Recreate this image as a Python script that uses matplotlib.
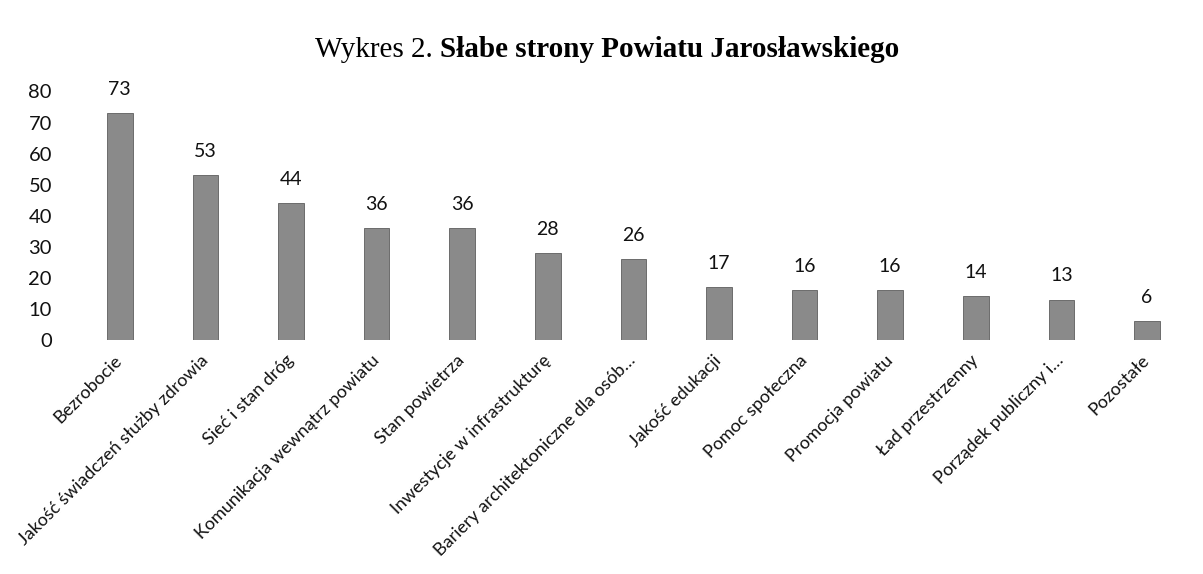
import numpy as np
import matplotlib.pyplot as plt

# Data
categories = ['Bezrobocie', 'Jakość świadczeń służby zdrowia', 'Sieć i stan dróg',
              'Komunikacja wewnątrz powiatu', 'Stan powietrza', 'Inwestycje w infrastrukturę',
              'Bariery architektoniczne dla osób…', 'Jakość edukacji', 'Pomoc społeczna',
              'Promocja powiatu', 'Ład przestrzenny', 'Porządek publiczny i…', 'Pozostałe']
values = [73, 53, 44, 36, 36, 28, 26, 17, 16, 16, 14, 13, 6]
yticks = [0, 10, 20, 30, 40, 50, 60, 70, 80]

plt.rcParams['font.family'] = ['Lato', 'DejaVu Sans']

fig = plt.figure(figsize=(12.03, 5.74), dpi=100)
ax = fig.add_axes([0.064, 0.4077, 0.925, 0.4329])

x = np.arange(len(categories))
bars = ax.bar(x, values, width=0.30, color='#8a8a8a', edgecolor='#5e5e5e', linewidth=0.6)

for xi, v in zip(x, values):
    ax.annotate(str(v), (xi, v), xytext=(0, 11), textcoords='offset points',
                ha='center', va='bottom', fontsize=14, color='#111111')

ax.set_xlim(-0.5, len(categories) - 0.5)
ax.set_ylim(0, 80)
ax.set_yticks(yticks)
ax.tick_params(axis='y', labelsize=14.5, length=0, pad=18, colors='#111111')
ax.set_xticks(x)
ax.set_xticklabels(categories, rotation=45, ha='right', va='center',
                   rotation_mode='anchor', fontsize=13, color='#111111')
ax.tick_params(axis='x', length=0, pad=13)
for s in ax.spines.values():
    s.set_visible(False)

# title: regular prefix + bold part
t1 = fig.text(0.262, 0.913, 'Wykres 2. ', fontsize=21, family='Liberation Serif',
              ha='left', va='center')
fig.canvas.draw()
bb = t1.get_window_extent()
fig.text(bb.x1 / fig.bbox.width, 0.913, 'Słabe strony Powiatu Jarosławskiego',
         fontsize=21, family='Liberation Serif', fontweight='bold', ha='left', va='center')

fig.savefig('out.png', dpi=100)
